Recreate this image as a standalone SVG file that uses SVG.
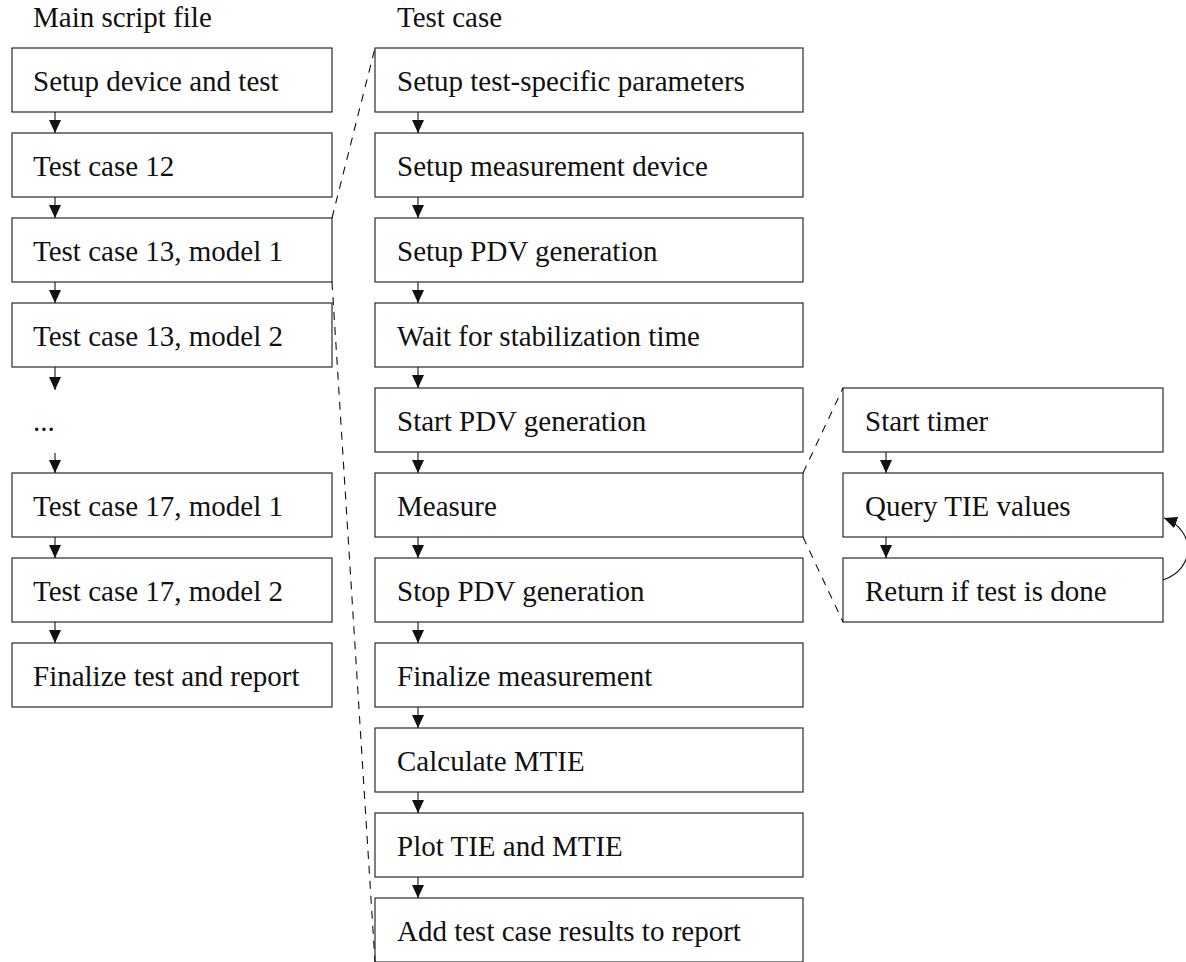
<svg xmlns="http://www.w3.org/2000/svg" width="1186" height="962" viewBox="0 0 1186 962">
  <style>
    .box { fill: #ffffff; stroke: #2a2a2a; stroke-width: 1.2; }
    .lbl { font-family: "Liberation Serif", "DejaVu Serif", serif; font-size: 29px; fill: #111111; }
    .flow { fill: none; stroke: #111111; stroke-width: 1.1; marker-end: url(#head); }
    .zoom { fill: none; stroke: #111111; stroke-width: 1.1; stroke-dasharray: 8 7; }
  </style>
  <defs>
    <marker id="head" markerUnits="userSpaceOnUse" markerWidth="14" markerHeight="12" viewBox="0 0 14 12" refX="13" refY="6" orient="auto">
      <path d="M0,0 L13,6 L0,12 Z" fill="#111111"/>
    </marker>
  </defs>

  <rect width="1186" height="962" fill="#ffffff"/>

  <!-- column headings -->
  <text class="lbl" x="33" y="27">Main script file</text>
  <text class="lbl" x="397" y="27">Test case</text>

  <!-- main script column -->
  <g id="m-setup"><rect class="box" x="12" y="48" width="320" height="64"/><text class="lbl" x="33" y="91">Setup device and test</text></g>
  <g id="m-tc12"><rect class="box" x="12" y="133" width="320" height="64"/><text class="lbl" x="33" y="176">Test case 12</text></g>
  <g id="m-tc13m1"><rect class="box" x="12" y="218" width="320" height="64"/><text class="lbl" x="33" y="261">Test case 13, model 1</text></g>
  <g id="m-tc13m2"><rect class="box" x="12" y="303" width="320" height="64"/><text class="lbl" x="33" y="346">Test case 13, model 2</text></g>
  <g id="m-more"><text class="lbl" x="33" y="431">...</text></g>
  <g id="m-tc17m1"><rect class="box" x="12" y="473" width="320" height="64"/><text class="lbl" x="33" y="516">Test case 17, model 1</text></g>
  <g id="m-tc17m2"><rect class="box" x="12" y="558" width="320" height="64"/><text class="lbl" x="33" y="601">Test case 17, model 2</text></g>
  <g id="m-final"><rect class="box" x="12" y="643" width="320" height="64"/><text class="lbl" x="33" y="686">Finalize test and report</text></g>

  <!-- test case column -->
  <g id="t-params"><rect class="box" x="375" y="48" width="428" height="64"/><text class="lbl" x="397" y="91">Setup test-specific parameters</text></g>
  <g id="t-device"><rect class="box" x="375" y="133" width="428" height="64"/><text class="lbl" x="397" y="176">Setup measurement device</text></g>
  <g id="t-pdvsetup"><rect class="box" x="375" y="218" width="428" height="64"/><text class="lbl" x="397" y="261">Setup PDV generation</text></g>
  <g id="t-wait"><rect class="box" x="375" y="303" width="428" height="64"/><text class="lbl" x="397" y="346">Wait for stabilization time</text></g>
  <g id="t-pdvstart"><rect class="box" x="375" y="388" width="428" height="64"/><text class="lbl" x="397" y="431">Start PDV generation</text></g>
  <g id="t-measure"><rect class="box" x="375" y="473" width="428" height="64"/><text class="lbl" x="397" y="516">Measure</text></g>
  <g id="t-pdvstop"><rect class="box" x="375" y="558" width="428" height="64"/><text class="lbl" x="397" y="601">Stop PDV generation</text></g>
  <g id="t-finalize"><rect class="box" x="375" y="643" width="428" height="64"/><text class="lbl" x="397" y="686">Finalize measurement</text></g>
  <g id="t-mtie"><rect class="box" x="375" y="728" width="428" height="64"/><text class="lbl" x="397" y="771">Calculate MTIE</text></g>
  <g id="t-plot"><rect class="box" x="375" y="813" width="428" height="64"/><text class="lbl" x="397" y="856">Plot TIE and MTIE</text></g>
  <g id="t-report"><rect class="box" x="375" y="898" width="428" height="64"/><text class="lbl" x="397" y="941">Add test case results to report</text></g>

  <!-- measure column -->
  <g id="s-timer"><rect class="box" x="843" y="388" width="320" height="64"/><text class="lbl" x="865" y="431">Start timer</text></g>
  <g id="s-query"><rect class="box" x="843" y="473" width="320" height="64"/><text class="lbl" x="865" y="516">Query TIE values</text></g>
  <g id="s-return"><rect class="box" x="843" y="558" width="320" height="64"/><text class="lbl" x="865" y="601">Return if test is done</text></g>

  <g id="connectors">
    <!-- main script flow -->
    <path class="flow" d="M55,112 V133"/>
    <path class="flow" d="M55,197 V218"/>
    <path class="flow" d="M55,282 V303"/>
    <path class="flow" d="M55,367 V390"/>
    <path class="flow" d="M55,453 V473"/>
    <path class="flow" d="M55,537 V558"/>
    <path class="flow" d="M55,622 V643"/>
    <!-- test case flow -->
    <path class="flow" d="M418,112 V133"/>
    <path class="flow" d="M418,197 V218"/>
    <path class="flow" d="M418,282 V303"/>
    <path class="flow" d="M418,367 V388"/>
    <path class="flow" d="M418,452 V473"/>
    <path class="flow" d="M418,537 V558"/>
    <path class="flow" d="M418,622 V643"/>
    <path class="flow" d="M418,707 V728"/>
    <path class="flow" d="M418,792 V813"/>
    <path class="flow" d="M418,877 V898"/>
    <!-- measure flow -->
    <path class="flow" d="M886,452 V473"/>
    <path class="flow" d="M886,537 V558"/>
    <!-- repeat loop -->
    <path class="flow" d="M1163,580 C1196,569 1196,530 1164,518"/>
    <!-- expansion guides -->
    <path class="zoom" d="M332,218 L375,48"/>
    <path class="zoom" d="M332,282 L375,962"/>
    <path class="zoom" d="M803,473 L843,388"/>
    <path class="zoom" d="M803,537 L843,622"/>
  </g>
</svg>
